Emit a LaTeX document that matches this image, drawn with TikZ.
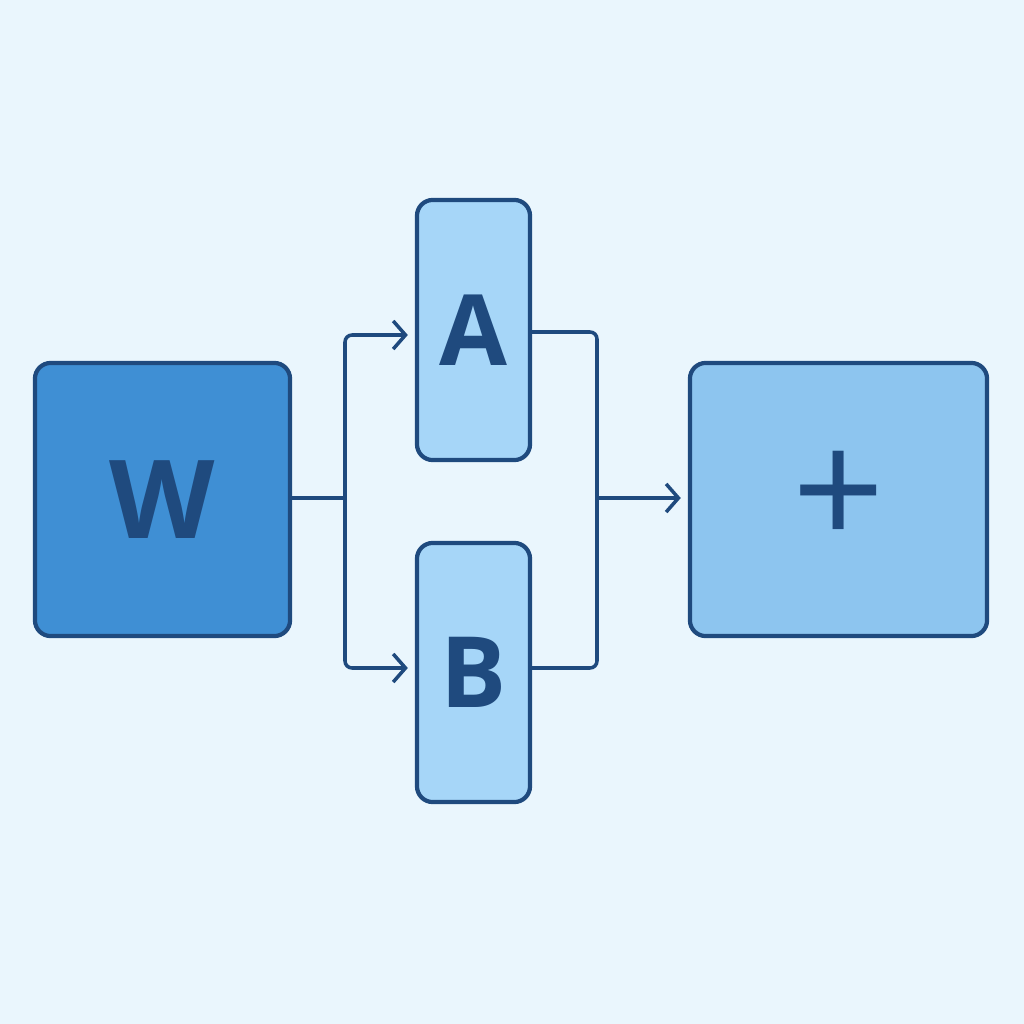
\documentclass[tikz,border=0pt]{standalone}
\usepackage{fontspec}
\setmainfont{Open Sans}
\usetikzlibrary{arrows.meta}
\definecolor{bg}{HTML}{EAF6FD}
\definecolor{ln}{HTML}{1F4A7E}
\definecolor{wf}{HTML}{3F8FD4}
\definecolor{abf}{HTML}{A6D6F8}
\definecolor{pf}{HTML}{8DC5EF}
\tikzset{box/.style={draw=ln,line width=1.2pt,rounded corners=4.5pt,inner sep=0pt,text=ln,font=\fontsize{28}{30}\selectfont\bfseries},
conn/.style={draw=ln,line width=1pt,rounded corners=2pt},
arr/.style={conn,-{Straight Barb[length=3.5pt,width=8pt,line width=1pt]}}}
\begin{document}
\begin{tikzpicture}[x=0.01cm,y=-0.01cm]
\fill[bg] (0,0) rectangle (1024,1024);
\useasboundingbox (0,0) rectangle (1024,1024);
\node[box,fill=wf,minimum width=2.55cm,minimum height=2.73cm,font=\fontsize{31}{31}\selectfont\bfseries] (w) at (162.5,499.5) {W};
\node[box,fill=abf,minimum width=1.13cm,minimum height=2.6cm] (a) at (473.5,330) {A};
\node[box,fill=abf,minimum width=1.13cm,minimum height=2.59cm] (b) at (473.5,672.5) {B};
\node[box,fill=pf,minimum width=2.97cm,minimum height=2.73cm,font=\fontsize{46}{46}\selectfont] (p) at (838.5,499.5) {+};
\coordinate (j) at (345,498);
\coordinate (k) at (597,498);
\draw[conn] (w.east|-j) -- (j);
\draw[arr] (j) |- ([xshift=-2pt]a.west|-0,335);
\draw[arr] (j) |- ([xshift=-2pt]b.west|-0,668);
\draw[conn] (a.east|-0,332) -| (k) |- (b.east|-0,668);
\draw[arr] (k) -- ([xshift=-2pt]p.west|-k);
\end{tikzpicture}
\end{document}
